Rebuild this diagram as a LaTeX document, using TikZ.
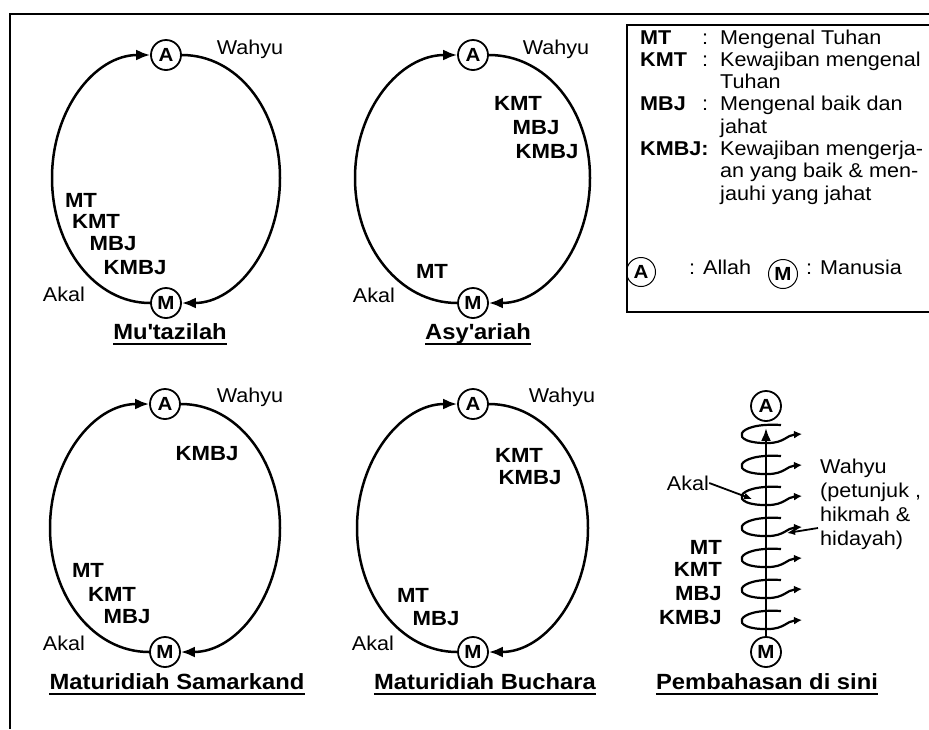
\documentclass[tikz,border=0pt]{standalone}
\usepackage{fontspec}
\setmainfont[FakeStretch=1.08]{Liberation Sans}
\usetikzlibrary{arrows.meta}
\begin{document}
\begin{tikzpicture}[x=1pt,y=-1pt,
  nd/.style={circle, draw, line width=1.8pt, inner sep=0pt, minimum size=30pt, font=\bfseries\fontsize{19}{19}\selectfont},
  legc/.style={circle, draw, line width=1pt, inner sep=0pt, minimum size=29pt, font=\bfseries\fontsize{19}{19}\selectfont},
  arcline/.style={line width=2.5pt, -{Latex[length=14pt,width=11pt]}},
  lbl/.style={font=\bfseries\fontsize{20.5}{20.5}\selectfont, inner sep=0pt},
  plain/.style={font=\fontsize{20}{20}\selectfont, inner sep=0pt},
  ttl/.style={font=\bfseries\fontsize{22}{22}\selectfont, inner sep=0pt, anchor=base},
  ulin/.style={line width=1.6pt},
  legab/.style={font=\bfseries\fontsize{20}{20}\selectfont, inner sep=0pt, anchor=base west},
  legtx/.style={font=\fontsize{20}{20}\selectfont, inner sep=0pt, anchor=base west},
  looparr/.style={line width=2.2pt, -{Latex[length=8pt,width=8pt]}},
  frame/.style={line width=1.6pt}
]
\useasboundingbox (0,0) rectangle (929,729);
% outer frame lines
\draw[frame] (929,14) -- (10,14) -- (10,729);

% ---------- Diagram 1: Mu'tazilah ----------
\node[nd] (a1) at (166,55) {A};
\node[nd] (m1) at (166,303) {M};
\coordinate (l1) at (52,178);
\coordinate (r1) at (280,178);
\draw[arcline] (m1.west) .. controls +(-55,0) and +(0,69) .. (l1) .. controls +(0,-69) and +(-55,0) .. (a1.west);
\draw[arcline] (a1.east) .. controls +(55,0) and +(0,-69) .. (r1) .. controls +(0,69) and +(55,0) .. (m1.east);
\node[plain] (w1) at (250,49) {Wahyu};
\node[lbl] (mt1) at (81,200) {MT};
\node[lbl] (kmt1) at (96,221) {KMT};
\node[lbl] (mbj1) at (113,244) {MBJ};
\node[lbl] (kmbj1) at (135,268) {KMBJ};
\node[plain] (ak1) at (64,294) {Akal};
\node[ttl] (t1) at (170,339) {Mu\textquotesingle tazilah};
\draw[ulin] ([yshift=-5pt]t1.base west) -- ([yshift=-5pt]t1.base east);

% ---------- Diagram 2: Asy'ariah ----------
\node[nd] (a2) at (473,55) {A};
\node[nd] (m2) at (473,303) {M};
\coordinate (l2) at (355,178);
\coordinate (r2) at (590,178);
\draw[arcline] (m2.west) .. controls +(-57,0) and +(0,69) .. (l2) .. controls +(0,-69) and +(-57,0) .. (a2.west);
\draw[arcline] (a2.east) .. controls +(57,0) and +(0,-69) .. (r2) .. controls +(0,69) and +(57,0) .. (m2.east);
\node[plain] (w2) at (556,49) {Wahyu};
\node[lbl] (kmt2) at (518,103) {KMT};
\node[lbl] (mbj2) at (536,128) {MBJ};
\node[lbl] (kmbj2) at (547,152) {KMBJ};
\node[lbl] (mt2) at (432,271) {MT};
\node[plain] (ak2) at (374,295) {Akal};
\node[ttl] (t2) at (478,339) {Asy\textquotesingle ariah};
\draw[ulin] ([yshift=-5pt]t2.base west) -- ([yshift=-5pt]t2.base east);

% ---------- Diagram 3: Maturidiah Samarkand ----------
\node[nd] (a3) at (165,404) {A};
\node[nd] (m3) at (165,652) {M};
\coordinate (l3) at (50,528);
\coordinate (r3) at (280,528);
\draw[arcline] (m3.west) .. controls +(-56,0) and +(0,68) .. (l3) .. controls +(0,-68) and +(-56,0) .. (a3.west);
\draw[arcline] (a3.east) .. controls +(56,0) and +(0,-68) .. (r3) .. controls +(0,68) and +(56,0) .. (m3.east);
\node[plain] (w3) at (250,397) {Wahyu};
\node[lbl] (kmbj3) at (207,454) {KMBJ};
\node[lbl] (mt3) at (88,570) {MT};
\node[lbl] (kmt3) at (112,594) {KMT};
\node[lbl] (mbj3) at (127,617) {MBJ};
\node[plain] (ak3) at (64,643) {Akal};
\node[ttl] (t3) at (177,689) {Maturidiah Samarkand};
\draw[ulin] ([yshift=-5pt]t3.base west) -- ([yshift=-5pt]t3.base east);

% ---------- Diagram 4: Maturidiah Buchara ----------
\node[nd] (a4) at (473,404) {A};
\node[nd] (m4) at (473,652) {M};
\coordinate (l4) at (357,528);
\coordinate (r4) at (588,528);
\draw[arcline] (m4.west) .. controls +(-56,0) and +(0,68) .. (l4) .. controls +(0,-68) and +(-56,0) .. (a4.west);
\draw[arcline] (a4.east) .. controls +(56,0) and +(0,-68) .. (r4) .. controls +(0,68) and +(56,0) .. (m4.east);
\node[plain] (w4) at (562,397) {Wahyu};
\node[lbl] (kmt4) at (519,455) {KMT};
\node[lbl] (kmbj4) at (530,478) {KMBJ};
\node[lbl] (mt4) at (413,595) {MT};
\node[lbl] (mbj4) at (436,619) {MBJ};
\node[plain] (ak4) at (373,643) {Akal};
\node[ttl] (t4) at (485,689) {Maturidiah Buchara};
\draw[ulin] ([yshift=-5pt]t4.base west) -- ([yshift=-5pt]t4.base east);

% ---------- Diagram 5: spiral ----------
\node[nd] (sa) at (766,406) {A};
\node[nd] (sm) at (766,652) {M};
\draw[line width=2.5pt, -{Latex[length=13pt,width=10pt]}] (sm.north) -- ([yshift=-6pt]sa.south);
\foreach \yy in {434,465,496,527,558,589,620}{
  \draw[looparr] (781,\yy-9) .. controls (734,\yy-12) and (728,\yy+10) .. (768,\yy+9) .. controls (784,\yy+9) and (787,\yy+1) .. (802,\yy);
}
\node[plain] (sak) at (688,483) {Akal};
\draw[line width=1.8pt, -{Latex[length=8pt,width=7pt]}] (sak.east) -- (752,499);
\node[plain, align=left, anchor=north west, font=\fontsize{20}{24}\selectfont] (sw) at (820,459) {Wahyu\\(petunjuk ,\\hikmah \&\\hidayah)};
\coordinate (hk) at (818,528);
\draw[line width=1.8pt, -{Latex[length=8pt,width=7pt]}] (hk) -- (787,533);
\node[lbl, anchor=east] (smt) at (722,547) {MT};
\node[lbl, anchor=east] (skmt) at (722,569) {KMT};
\node[lbl, anchor=east] (smbj) at (722,594) {MBJ};
\node[lbl, anchor=east] (skmbj) at (722,618) {KMBJ};
\node[ttl] (t5) at (767,689) {Pembahasan di sini};
\draw[ulin] ([yshift=-5pt]t5.base west) -- ([yshift=-5pt]t5.base east);

% ---------- Legend ----------
\draw[frame] (929,25) -- (627,25) -- (627,312) -- (929,312);
\node[legab] (lmt) at (640,44) {MT};
\node[legtx] (lc1) at (702,44) {:};
\node[legtx] (lt1) at (720,44) {Mengenal Tuhan};
\node[legab] (lkmt) at (640,66.3) {KMT};
\node[legtx] (lc2) at (702,66.3) {:};
\node[legtx] (lt2) at (720,66.3) {Kewajiban mengenal};
\node[legtx] (lt3) at (720,88.6) {Tuhan};
\node[legab] (lmbj) at (640,110.9) {MBJ};
\node[legtx] (lc4) at (702,110.9) {:};
\node[legtx] (lt4) at (720,110.9) {Mengenal baik dan};
\node[legtx] (lt5) at (720,133.2) {jahat};
\node[legab] (lkmbj) at (640,155.5) {KMBJ:};
\node[legtx] (lt6) at (720,155.5) {Kewajiban mengerja-};
\node[legtx] (lt7) at (720,177.8) {an yang baik \& men-};
\node[legtx] (lt8) at (720,200.1) {jauhi yang jahat};
\node[legc] (la) at (641,272) {A};
\node[legtx] (lal) at (689,274) {: Allah};
\node[legc] (lm) at (783,274) {M};
\node[legtx] (lma) at (806,274) {: Manusia};
\end{tikzpicture}
\end{document}
